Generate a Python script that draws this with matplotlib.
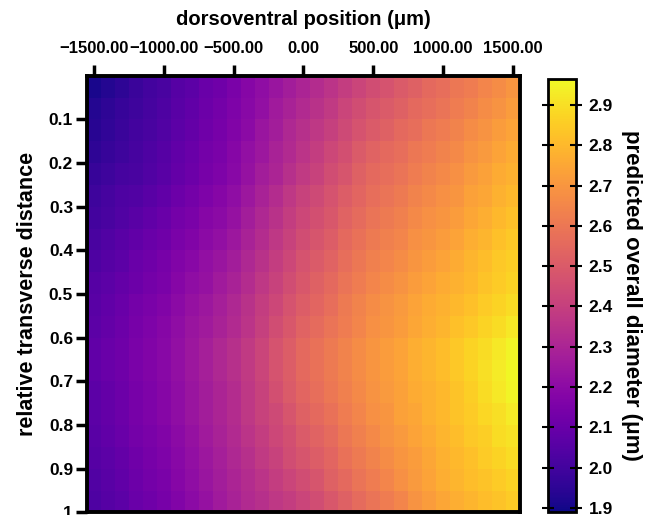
import matplotlib
matplotlib.use("Agg")
import matplotlib.pyplot as plt
from matplotlib.ticker import FuncFormatter
import numpy as np

plt.rcParams['font.family'] = ['Liberation Sans', 'DejaVu Sans']
plt.rcParams['font.weight'] = 'bold'

# dorsoventral position of each column (um)
x_pos = list(range(-1500, 1501, 100))
# relative transverse distance of each row
y_pos = [0.025, 0.075, 0.125, 0.175, 0.225, 0.275, 0.325, 0.375, 0.425, 0.475,
         0.525, 0.575, 0.625, 0.675, 0.725, 0.775, 0.825, 0.875, 0.925, 0.975]

# predicted overall diameter (um), one row per y_pos, one value per x_pos
diameter = [
    [1.91, 1.93, 1.95, 1.98, 2.00, 2.02, 2.05, 2.07, 2.10, 2.12, 2.15, 2.18, 2.21, 2.24, 2.27, 2.30, 2.33, 2.36, 2.39, 2.42, 2.45, 2.47, 2.50, 2.52, 2.55, 2.57, 2.60, 2.62, 2.65, 2.67, 2.70],
    [1.93, 1.95, 1.97, 1.99, 2.01, 2.03, 2.06, 2.08, 2.11, 2.13, 2.16, 2.19, 2.22, 2.26, 2.29, 2.32, 2.35, 2.38, 2.42, 2.45, 2.48, 2.50, 2.52, 2.55, 2.57, 2.59, 2.62, 2.64, 2.67, 2.69, 2.72],
    [1.94, 1.96, 1.98, 2.00, 2.02, 2.04, 2.07, 2.09, 2.12, 2.14, 2.17, 2.20, 2.24, 2.27, 2.31, 2.34, 2.37, 2.40, 2.44, 2.47, 2.50, 2.52, 2.55, 2.57, 2.60, 2.62, 2.64, 2.67, 2.69, 2.72, 2.74],
    [1.95, 1.97, 1.99, 2.01, 2.03, 2.05, 2.08, 2.10, 2.13, 2.15, 2.18, 2.22, 2.25, 2.29, 2.32, 2.36, 2.39, 2.43, 2.46, 2.50, 2.53, 2.55, 2.57, 2.60, 2.62, 2.64, 2.66, 2.69, 2.71, 2.74, 2.76],
    [1.97, 1.99, 2.01, 2.02, 2.04, 2.06, 2.09, 2.11, 2.14, 2.16, 2.19, 2.23, 2.27, 2.30, 2.34, 2.38, 2.41, 2.45, 2.48, 2.52, 2.55, 2.57, 2.59, 2.62, 2.64, 2.66, 2.68, 2.71, 2.73, 2.76, 2.78],
    [1.99, 2.01, 2.03, 2.04, 2.06, 2.08, 2.11, 2.13, 2.16, 2.18, 2.21, 2.25, 2.29, 2.33, 2.37, 2.41, 2.44, 2.47, 2.51, 2.54, 2.57, 2.59, 2.61, 2.64, 2.66, 2.68, 2.70, 2.73, 2.75, 2.78, 2.80],
    [2.00, 2.02, 2.04, 2.06, 2.08, 2.10, 2.13, 2.15, 2.18, 2.20, 2.23, 2.27, 2.31, 2.35, 2.39, 2.43, 2.46, 2.49, 2.53, 2.56, 2.59, 2.61, 2.63, 2.66, 2.68, 2.70, 2.72, 2.75, 2.77, 2.80, 2.82],
    [2.02, 2.04, 2.06, 2.08, 2.10, 2.12, 2.15, 2.17, 2.20, 2.22, 2.25, 2.29, 2.33, 2.37, 2.41, 2.45, 2.48, 2.51, 2.55, 2.58, 2.61, 2.63, 2.65, 2.68, 2.70, 2.72, 2.74, 2.77, 2.79, 2.82, 2.84],
    [2.03, 2.05, 2.07, 2.10, 2.12, 2.14, 2.17, 2.19, 2.22, 2.24, 2.27, 2.31, 2.35, 2.39, 2.43, 2.47, 2.50, 2.53, 2.57, 2.60, 2.63, 2.65, 2.67, 2.70, 2.72, 2.74, 2.76, 2.79, 2.81, 2.84, 2.86],
    [2.05, 2.07, 2.09, 2.11, 2.13, 2.15, 2.18, 2.21, 2.23, 2.26, 2.29, 2.33, 2.37, 2.41, 2.45, 2.49, 2.52, 2.55, 2.59, 2.62, 2.65, 2.67, 2.69, 2.72, 2.74, 2.76, 2.78, 2.80, 2.83, 2.85, 2.87],
    [2.06, 2.08, 2.10, 2.13, 2.15, 2.17, 2.20, 2.23, 2.25, 2.28, 2.31, 2.35, 2.39, 2.43, 2.47, 2.51, 2.54, 2.57, 2.61, 2.64, 2.67, 2.69, 2.71, 2.74, 2.76, 2.78, 2.80, 2.82, 2.85, 2.87, 2.89],
    [2.07, 2.09, 2.11, 2.14, 2.16, 2.18, 2.21, 2.24, 2.26, 2.29, 2.32, 2.36, 2.40, 2.45, 2.49, 2.53, 2.56, 2.59, 2.62, 2.65, 2.68, 2.70, 2.72, 2.75, 2.77, 2.79, 2.82, 2.84, 2.87, 2.89, 2.92],
    [2.08, 2.10, 2.12, 2.15, 2.17, 2.19, 2.22, 2.25, 2.28, 2.31, 2.34, 2.38, 2.42, 2.47, 2.51, 2.55, 2.58, 2.61, 2.64, 2.67, 2.70, 2.72, 2.74, 2.77, 2.79, 2.81, 2.84, 2.87, 2.89, 2.92, 2.95],
    [2.08, 2.10, 2.12, 2.15, 2.17, 2.19, 2.22, 2.25, 2.28, 2.31, 2.34, 2.38, 2.42, 2.47, 2.51, 2.55, 2.58, 2.61, 2.64, 2.67, 2.70, 2.72, 2.74, 2.77, 2.79, 2.81, 2.84, 2.87, 2.90, 2.93, 2.96],
    [2.07, 2.09, 2.11, 2.14, 2.16, 2.18, 2.21, 2.24, 2.27, 2.30, 2.33, 2.37, 2.41, 2.46, 2.50, 2.54, 2.57, 2.60, 2.63, 2.66, 2.69, 2.71, 2.73, 2.76, 2.78, 2.80, 2.83, 2.86, 2.89, 2.92, 2.95],
    [2.07, 2.09, 2.11, 2.14, 2.16, 2.18, 2.21, 2.24, 2.27, 2.30, 2.33, 2.37, 2.41, 2.44, 2.48, 2.52, 2.55, 2.58, 2.62, 2.65, 2.68, 2.70, 2.73, 2.75, 2.78, 2.80, 2.83, 2.85, 2.88, 2.90, 2.93],
    [2.06, 2.08, 2.10, 2.13, 2.15, 2.17, 2.20, 2.23, 2.26, 2.29, 2.32, 2.36, 2.39, 2.43, 2.46, 2.50, 2.53, 2.56, 2.60, 2.63, 2.66, 2.69, 2.71, 2.74, 2.76, 2.79, 2.81, 2.84, 2.86, 2.89, 2.91],
    [2.05, 2.07, 2.09, 2.12, 2.14, 2.16, 2.19, 2.22, 2.25, 2.28, 2.31, 2.34, 2.38, 2.41, 2.45, 2.48, 2.51, 2.54, 2.58, 2.61, 2.64, 2.67, 2.70, 2.72, 2.75, 2.78, 2.80, 2.82, 2.85, 2.87, 2.89],
    [2.04, 2.06, 2.08, 2.11, 2.13, 2.15, 2.18, 2.21, 2.24, 2.27, 2.30, 2.33, 2.36, 2.39, 2.42, 2.45, 2.48, 2.52, 2.55, 2.59, 2.62, 2.65, 2.68, 2.71, 2.74, 2.77, 2.79, 2.81, 2.83, 2.85, 2.87],
    [2.03, 2.05, 2.07, 2.10, 2.12, 2.14, 2.17, 2.20, 2.23, 2.26, 2.29, 2.32, 2.34, 2.37, 2.39, 2.42, 2.45, 2.49, 2.52, 2.56, 2.59, 2.62, 2.65, 2.69, 2.72, 2.75, 2.77, 2.79, 2.81, 2.83, 2.85],
]

x_ticks = [-1500, -1000, -500, 0, 500, 1000, 1500]
y_ticks = [0.1, 0.2, 0.3, 0.4, 0.5, 0.6, 0.7, 0.8, 0.9, 1.0]
y_tick_labels = ['0.1', '0.2', '0.3', '0.4', '0.5', '0.6', '0.7', '0.8', '0.9', '1']
cbar_ticks = [1.9, 2.0, 2.1, 2.2, 2.3, 2.4, 2.5, 2.6, 2.7, 2.8, 2.9]

fig = plt.figure(figsize=(6.54, 5.15), dpi=100)
ax = fig.add_axes([0.133, 0.005, 0.662, 0.848])
cax = fig.add_axes([0.838, 0.006, 0.043, 0.841])

mesh = ax.pcolormesh(x_pos, y_pos, np.array(diameter), cmap='plasma',
                     vmin=1.89, vmax=2.965, shading='nearest')
ax.set_xlim(-1550, 1550)
ax.set_ylim(1.0, 0.0)

# axes on top, like the original
ax.xaxis.tick_top()
ax.xaxis.set_label_position('top')
ax.set_xticks(x_ticks)
ax.xaxis.set_major_formatter(FuncFormatter(lambda v, p: f"{v:.2f}".replace('-', '\u2212')))
ax.set_yticks(y_ticks)
ax.set_yticklabels(y_tick_labels)
ax.tick_params(axis='x', direction='out', length=8, width=2.5, labelsize=12, pad=6)
ax.tick_params(axis='y', direction='out', length=8, width=2.5, labelsize=12.5, pad=2)
for s in ax.spines.values():
    s.set_linewidth(2.8)

ax.set_xlabel('dorsoventral position (μm)', fontsize=14.5, fontweight='bold', labelpad=12)
ax.set_ylabel('relative transverse distance', fontsize=15.5, fontweight='bold', labelpad=8)

cbar = fig.colorbar(mesh, cax=cax)
cbar.set_ticks(cbar_ticks)
cbar.ax.set_yticklabels([f"{t:.1f}" for t in cbar_ticks])
cbar.ax.tick_params(direction='inout', length=8, width=1.5, left=True, right=True,
                    labelsize=12.5, pad=5)
cbar.outline.set_linewidth(2)
cbar.set_label('predicted overall diameter (μm)', fontsize=16, fontweight='bold',
               rotation=270, labelpad=21)

fig.savefig('out.png', dpi=100)
